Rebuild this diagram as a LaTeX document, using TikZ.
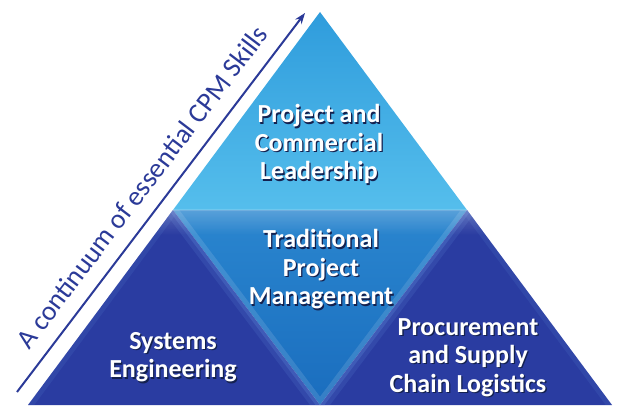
\documentclass[tikz,border=0pt]{standalone}
\usepackage{fontspec}
\setmainfont{Carlito}
\usetikzlibrary{arrows.meta,fadings}
\definecolor{topA}{HTML}{2F9CDC}
\definecolor{topB}{HTML}{55BEEC}
\definecolor{midA}{HTML}{2A86CF}
\definecolor{midB}{HTML}{1A6DBE}
\definecolor{darkb}{HTML}{2A3CA1}
\definecolor{glowb}{HTML}{5C86D6}
\definecolor{arrowc}{HTML}{2B3A98}
\definecolor{shadowc}{HTML}{14214F}
\tikzfading[name=fadedown, top color=transparent!0, bottom color=transparent!100]
\newcommand\shl[1]{\leavevmode\rlap{\hspace{1.3pt}\raisebox{-1.3pt}{\color{shadowc}#1}}#1}
\begin{document}
\begin{tikzpicture}[x=1pt,y=1pt,
  lbl/.style={font=\bfseries\fontsize{26}{28.5}\selectfont, align=center, inner sep=0pt, text=white},
  arr/.style={draw=arrowc, line width=2pt, -{Stealth[length=11pt,width=8pt]}},
  glow/.style={draw=glowb, line cap=round}
]
\useasboundingbox (0,0) rectangle (617,405);
\coordinate (A) at (320,393);
\coordinate (L) at (173,195);
\coordinate (R) at (467,195);
\coordinate (BL) at (28,0);
\coordinate (BM) at (320,0);
\coordinate (BR) at (612,0);
% top triangle
\shade[top color=topA, bottom color=topB] (A) -- (L) -- (R) -- cycle;
% middle inverted triangle
\shade[top color=midA, bottom color=midB] (L) -- (R) -- (BM) -- cycle;
% bottom triangles
\fill[darkb] (L) -- (BL) -- (BM) -- cycle;
\fill[darkb] (R) -- (BM) -- (BR) -- cycle;
% glows along inner edges
\begin{scope}
  \clip (L) -- (BL) -- (BM) -- cycle;
  \draw[glow, line width=16pt, opacity=0.18] (L) -- (BM);
  \draw[glow, line width=7pt, opacity=0.3] (L) -- (BM);
  \draw[glow, line width=10pt, opacity=0.15] (L) -- (BL);
\end{scope}
\begin{scope}
  \clip (R) -- (BM) -- (BR) -- cycle;
  \draw[glow, line width=16pt, opacity=0.18] (R) -- (BM);
  \draw[glow, line width=7pt, opacity=0.3] (R) -- (BM);
  \draw[glow, line width=10pt, opacity=0.15] (R) -- (BR);
\end{scope}
\begin{scope}
  \clip (L) -- (R) -- (BM) -- cycle;
  \draw[draw=white, line width=10pt, opacity=0.12] (L) -- (BM) (R) -- (BM);
\end{scope}
% light band under the horizontal division
\begin{scope}
  \clip (A) -- (BL) -- (BR) -- cycle;
  \fill[white, opacity=0.22, path fading=fadedown] (0,170) rectangle (617,195);
  \fill[white, opacity=0.15] (0,194) rectangle (617,196);
\end{scope}
% arrow with label
\coordinate (as) at (17,13);
\coordinate (ae) at (305,392);
\draw[arr] (as) -- (ae);
\node[rotate=52.77, anchor=base, text=arrowc, inner sep=0pt,
      font=\fontsize{27.5}{30}\selectfont] (cont) at (149.5,212.5)
      {A continuum of essential CPM Skills};
% labels
\node[lbl] (pcl) at (319,260) {\shl{Project and}\\\shl{Commercial}\\\shl{Leadership}};
\node[lbl] (tpm) at (321,135) {\shl{Traditional}\\\shl{Project}\\\shl{Management}};
\node[lbl] (se) at (173,47) {\shl{Systems}\\\shl{Engineering}};
\node[lbl] (ps) at (468,47) {\shl{Procurement}\\\shl{and Supply}\\\shl{Chain Logistics}};
\end{tikzpicture}
\end{document}
